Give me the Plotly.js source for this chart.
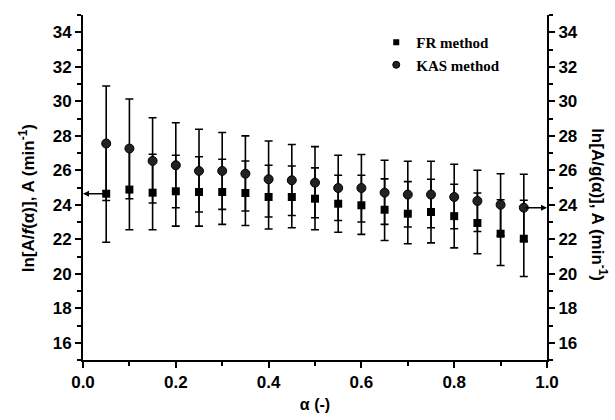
<!DOCTYPE html>
<html>
<head>
<meta charset="utf-8">
<script src="https://cdn.plot.ly/plotly-3.0.1.min.js"></script>
<style>html,body{margin:0;padding:0;background:#fff;}#chart{width:615px;height:420px;}</style>
</head>
<body>
<div id="chart"></div>
<script>
// Conversion degree values
const alpha = [0.05,0.10,0.15,0.20,0.25,0.30,0.35,0.40,0.45,0.50,0.55,0.60,0.65,0.70,0.75,0.80,0.85,0.90,0.95];

// FR method: ln[A/f(alpha)] and error bar ends
const frVal   = [24.64,24.88,24.70,24.78,24.74,24.74,24.68,24.45,24.45,24.35,24.06,23.97,23.71,23.48,23.58,23.34,22.94,22.32,22.03];
const frUpper = [27.45,27.21,26.93,26.87,26.78,26.64,26.54,26.29,26.25,26.14,25.71,25.71,25.50,25.34,25.48,25.19,24.68,24.29,24.26];
const frLower = [21.83,22.55,22.55,22.76,22.76,22.86,22.80,22.59,22.67,22.55,22.41,22.28,21.93,21.74,21.79,21.50,21.16,20.48,19.84];

// KAS method: ln[A/g(alpha)] and error bar ends
const kasVal   = [27.55,27.26,26.54,26.29,25.96,25.96,25.80,25.48,25.42,25.28,24.97,24.97,24.70,24.59,24.59,24.45,24.22,24.00,23.83];
const kasUpper = [30.88,30.13,29.04,28.75,28.38,28.19,27.99,27.70,27.49,27.37,26.87,26.91,26.58,26.52,26.52,26.35,26.00,25.80,25.77];
const kasLower = [24.25,24.35,24.10,23.83,23.58,23.73,23.64,23.29,23.38,23.25,23.09,23.00,22.86,22.71,22.67,22.61,22.45,22.20,21.90];

const seriesNames = ['FR method','KAS method'];
const xTitle = 'α (-)';
const yLeftTitle = 'ln[A/<i>f</i>(α)], A (min<sup>-1</sup>)';
const yRightTitle = 'ln[A/g(α)], A (min<sup>-1</sup>)';

const diff = (a,b) => a.map((v,i)=>v-b[i]);

const sansBold = {family:'Liberation Sans, Arial, sans-serif', size:17, color:'#000', weight:'bold'};
const errStyle = {type:'data', symmetric:false, color:'#000', thickness:1.6, width:4};

const traces = [
  {
    x: alpha, y: frVal, name: seriesNames[0], type:'scatter', mode:'markers',
    xaxis:'x', yaxis:'y', showlegend:false,
    marker:{symbol:'square', size:8, color:'#000'},
    error_y: Object.assign({}, errStyle, {array: diff(frUpper, frVal), arrayminus: diff(frVal, frLower)})
  },
  {
    x: alpha, y: kasVal, name: seriesNames[1], type:'scatter', mode:'markers',
    xaxis:'x', yaxis:'y2', showlegend:false,
    marker:{symbol:'circle', size:9, color:'#222', line:{color:'#000', width:1}},
    error_y: Object.assign({}, errStyle, {array: diff(kasUpper, kasVal), arrayminus: diff(kasVal, kasLower)})
  },
  // legend entries (smaller symbols, as in the reference legend)
  {x:[null], y:[null], name: seriesNames[0], type:'scatter', mode:'markers', xaxis:'x', yaxis:'y',
   marker:{symbol:'square', size:6, color:'#000'}},
  {x:[null], y:[null], name: seriesNames[1], type:'scatter', mode:'markers', xaxis:'x', yaxis:'y2',
   marker:{symbol:'circle', size:7, color:'#222', line:{color:'#000', width:1}}}
];

const axisCommon = {
  showgrid:false, zeroline:false, showline:true, linecolor:'#000', linewidth:2,
  ticks:'outside', ticklen:6, tickwidth:2, tickcolor:'#000', tickfont: sansBold
};

const layout = {
  width:615, height:420,
  margin:{l:83, r:68, t:15, b:60},
  paper_bgcolor:'#fff', plot_bgcolor:'#fff',
  showlegend:true,
  legend:{x:0.632, y:0.968, xanchor:'left', yanchor:'top', bgcolor:'rgba(0,0,0,0)',
          font:{family:'Liberation Serif, Times New Roman, serif', size:15, color:'#000', weight:'bold'},
          itemwidth:30, tracegroupgap:0},
  xaxis: Object.assign({}, axisCommon, {
    range:[0,1], dtick:0.2, tick0:0, tickformat:'.1f',
    minor:{dtick:0.1, ticklen:4, tickwidth:2, tickcolor:'#000', ticks:'outside'},
    title:{text:xTitle, font:{family:'Liberation Sans, Arial, sans-serif', size:16, color:'#000', weight:'bold'}, standoff:7}
  }),
  xaxis2: {
    overlaying:'x', side:'top', anchor:'y', range:[0,1], dtick:0.1, tick0:0,
    ticks:'inside', ticklen:6, tickwidth:2, tickcolor:'#000',
    showticklabels:false, showgrid:false, zeroline:false, showline:true, linecolor:'#000', linewidth:2
  },
  yaxis: Object.assign({}, axisCommon, {
    range:[15,35], dtick:2, tick0:16,
    minor:{dtick:1, ticklen:4, tickwidth:2, tickcolor:'#000', ticks:'outside'}
  }),
  yaxis2: Object.assign({}, axisCommon, {
    overlaying:'y', side:'right', anchor:'x', range:[15,35], dtick:2, tick0:16,
    minor:{dtick:1, ticklen:4, tickwidth:2, tickcolor:'#000', ticks:'outside'}
  }),
  annotations:[
    {xref:'paper', yref:'paper', x:-0.122, y:0.47, text:yLeftTitle, textangle:-90, showarrow:false,
     font:{family:'Liberation Sans, Arial, sans-serif', size:17, color:'#000', weight:'bold'}, xanchor:'center', yanchor:'middle'},
    {xref:'paper', yref:'paper', x:1.112, y:0.449, text:yRightTitle, textangle:90, showarrow:false,
     font:{family:'Liberation Sans, Arial, sans-serif', size:17, color:'#000', weight:'bold'}, xanchor:'center', yanchor:'middle'},
    // arrow from first FR point to left axis
    {xref:'x', yref:'y', axref:'x', ayref:'y', x:0, y:frVal[0], ax:alpha[0], ay:frVal[0],
     text:'', showarrow:true, arrowhead:2, arrowsize:0.8, arrowwidth:1.5, arrowcolor:'#000'},
    // arrow from last KAS point to right axis
    {xref:'x', yref:'y2', axref:'x', ayref:'y2', x:1, y:kasVal[kasVal.length-1], ax:alpha[alpha.length-1], ay:kasVal[kasVal.length-1],
     text:'', showarrow:true, arrowhead:2, arrowsize:0.8, arrowwidth:1.5, arrowcolor:'#000'}
  ]
};

Plotly.newPlot('chart', traces, layout, {staticPlot:true, displayModeBar:false});
</script>
</body>
</html>
